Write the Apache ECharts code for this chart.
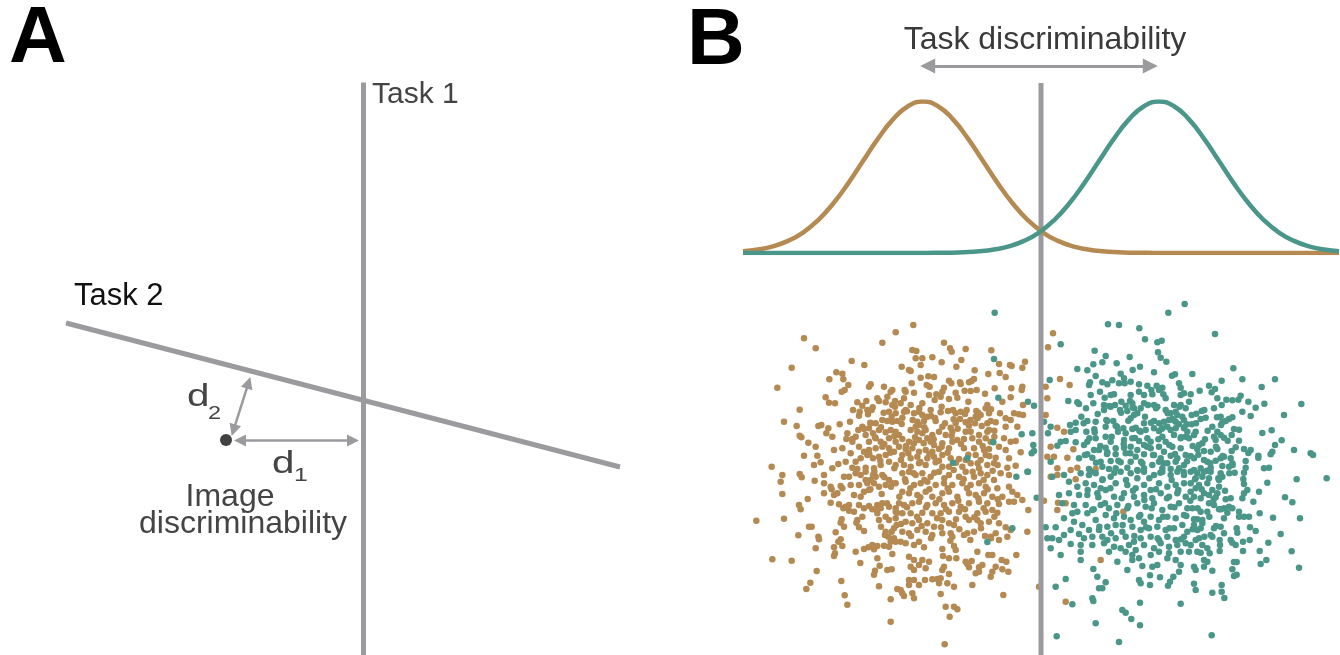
<!DOCTYPE html>
<html>
<head>
<meta charset="utf-8">
<script src="https://cdn.jsdelivr.net/npm/echarts@6/dist/echarts.min.js"></script>
<style>
  html, body { margin: 0; padding: 0; background: #fff; }
  #chart { width: 1340px; height: 655px; }
</style>
</head>
<body>
<div id="chart"></div>
<script>
// ---------- Panel A: two task boundaries and one image (units: decision space) ----------
const task1Boundary = [[0, -25.45], [0, 31.8]];
const task2Boundary = [[-29.75, 7.75], [25.65, -6.65]];
const imagePoint = [[-13.75, -3.95]];
const d1Arrow = [[-12.35, -4.0], [-1.05, -4.0]];
const d2Arrow = [[-13.0, -2.97], [-11.5, 1.77]];

// ---------- Panel B: class densities along the task axis ----------
const orangeDensityX = [-894,-849,-804,-759,-714,-669,-624,-579,-534,-489,-444,-399,-354,-309,-264,-219,-174,-129,-84,-39,6,51,96,141,186,231,276,321,366,411,456,501,546,591,636,681,726,771,816,861,894];
const orangeDensityY = [0.011,0.023,0.044,0.080,0.135,0.216,0.325,0.458,0.607,0.755,0.882,0.969,1,0.969,0.882,0.755,0.607,0.458,0.325,0.216,0.135,0.080,0.044,0.023,0.011,0.005,0.002,0.001,0,0,0,0,0,0,0,0,0,0,0,0,0];
const tealDensityX = [-894,-861,-816,-771,-726,-681,-636,-591,-546,-501,-456,-411,-366,-321,-276,-231,-186,-141,-96,-51,-6,39,84,129,174,219,264,309,354,399,444,489,534,579,624,669,714,759,804,849,894];
const tealDensityY = [0,0,0,0,0,0,0,0,0,0,0,0,0,0.001,0.002,0.005,0.011,0.023,0.044,0.080,0.135,0.216,0.325,0.458,0.607,0.755,0.882,0.969,1,0.969,0.882,0.755,0.607,0.458,0.325,0.216,0.135,0.080,0.044,0.023,0.011];

// Task boundary and discriminability arrow (same horizontal units as the samples)
const taskBoundaryB = [[0, -555], [0, 1161]];
const taskArrowB = [[-340, 1212], [328, 1212]];

// ---------- Panel B: image samples of each class ----------
const orangeSamples = [
[-711,395],[-676,365],[-748,307],[-791,247],[-568,327],[-530,315],[-436,413],[-476,382],[-614,293],[-596,289],[-635,272],[-593,272],[-578,255],[-598,235],[-589,240],[-511,257],[-516,250],[-471,250],[-446,240],[-451,235],[-646,218],[-636,202],[-618,200],[-724,181],[-771,145],[-733,132],[-668,132],[-659,135],[-638,125],[-604,137],[-573,145],[-724,103],[-719,98],[-698,82],[-676,70],[-711,43],[-671,43],[-808,10],[-681,15],[-661,23],[-626,5],[-608,18],[-621,60],[-596,65],[-626,100],[-644,110],[-584,93],[-566,93],[-581,110],
[-551,203],[-536,193],[-524,207],[-544,175],[-521,180],[-508,180],[-564,180],[-546,163],[-519,167],[-491,215],[-486,207],[-466,203],[-461,220],[-446,195],[-438,207],[-456,175],[-436,170],[-431,147],[-446,145],[-476,150],[-461,147],[-496,140],[-511,140],[-536,130],[-548,120],[-531,123],[-516,125],[-504,110],[-486,120],[-466,113],[-451,120],[-436,115],[-436,85],[-456,95],[-481,85],[-496,95],[-516,85],[-526,105],[-556,100],[-566,85],[-546,70],[-531,55],[-516,60],[-496,65],[-476,70],[-456,65],[-441,55],[-466,45],[-486,40],[-504,35],[-521,45],[-541,35],[-556,25],[-571,50],[-586,25],[-566,7],[-551,3],[-526,7],[-501,5],[-481,15],[-456,25],[-436,15],
[-383,435],[-291,382],[-273,365],[-268,355],[-226,363],[-149,359],[-386,360],[-374,357],[-376,335],[-356,335],[-326,338],[-239,330],[-298,323],[-361,315],[-418,310],[-396,300],[-391,297],[-254,310],[-199,299],[-126,318],[-93,315],[-88,312],[-48,325],[-56,307],[-158,288],[-124,291],[-106,279],[-338,281],[-321,279],[-361,277],[-276,268],[-269,260],[-243,263],[-241,258],[-216,263],[-208,267],[-201,273],[-388,260],[-343,255],[-334,250],[-291,247],[-296,235],[-256,232],[-229,238],[-211,237],[-193,240],[-139,245],[-89,245],[-56,250],[-58,240],[-409,240],[-406,235],[-381,232],[-336,225],[-314,227],[-301,220],[-276,213],[-251,217],[-218,205],[-168,229],[-116,205],[-91,218],[-54,195],[-411,215],[-421,200],[-391,195],[-356,200],[-319,210],[-366,175],[-381,170],[-356,165],[-341,160],[-331,180],[-301,173],[-279,177],[-264,180],[-256,170],[-241,175],[-223,180],[-194,177],[-188,172],[-166,185],[-161,195],[-156,170],[-123,170],[-81,170],[-66,167],[-54,165],[-106,155],[-91,150],[-416,157],[-411,175],[-406,180],[-371,145],[-351,147],[-316,147],[-296,130],[-271,127],[-256,140],[-243,153],[-226,143],[-216,133],[-198,140],[-196,160],[-181,165],[-161,140],[-151,147],[-136,143],[-106,130],[-71,130],[-376,130],[-366,135],[-391,120],[-371,115],[-356,110],[-346,120],[-326,105],[-306,115],[-286,105],[-266,115],[-226,115],[-211,115],[-186,105],[-161,115],[-156,120],[-426,105],[-416,93],[-396,85],[-381,80],[-366,90],[-341,95],[-331,85],[-321,75],[-296,80],[-266,85],[-251,90],[-231,93],[-186,85],[-166,95],[-151,85],[-111,95],[-91,85],[-76,87],[-426,70],[-406,63],[-386,65],[-366,55],[-346,60],[-326,55],[-306,63],[-276,65],[-231,65],[-201,65],[-171,60],[-156,63],[-126,70],[-106,60],[-416,45],[-391,35],[-371,40],[-341,35],[-321,40],[-296,45],[-271,35],[-246,33],[-226,30],[-196,45],[-181,30],[-166,45],[-136,37],[-96,35],[-61,53],[-411,15],[-391,10],[-366,20],[-346,15],[-316,23],[-296,10],[-276,10],[-236,10],[-211,20],[-186,5],[-161,15],[-141,20],[-101,7],[-76,13],
[36,410],[21,368],[57,273],[86,255],[14,250],[19,215],[14,165],[49,127],[69,115],[29,70],[97,62],[19,40],[39,40],[79,37],[49,5],[164,3],[109,7],
[-776,-15],[-781,-35],[-724,-12],[-718,-22],[-651,-15],[-679,-32],[-651,-40],[-776,-72],[-700,-87],[-726,-105],[-721,-118],[-854,-152],[-771,-146],[-631,-50],[-628,-58],[-651,-70],[-621,-75],[-611,-70],[-631,-98],[-606,-103],[-596,-55],[-601,-48],[-571,-45],[-576,-20],[-591,-20],[-556,-10],[-541,-15],[-526,-5],[-504,-15],[-546,-45],[-561,-75],[-541,-80],[-531,-65],[-516,-60],[-521,-40],[-501,-40],[-486,-50],[-466,-45],[-446,-40],[-526,-30],[-511,-30],[-496,-20],[-476,-15],[-456,-30],[-436,-40],[-576,-105],[-586,-110],[-593,-115],[-576,-122],[-561,-125],[-546,-105],[-531,-115],[-516,-108],[-506,-118],[-491,-105],[-476,-100],[-481,-115],[-456,-110],[-436,-115],[-491,-130],[-486,-150],[-466,-140],[-456,-150],[-436,-145],[-436,-125],[-598,-148],[-601,-158],[-591,-170],[-551,-150],[-554,-158],[-536,-140],[-546,-172],[-531,-183],[-616,-187],[-601,-208],[-608,-215],[-696,-170],[-688,-170],[-728,-196],[-668,-200],[-666,-208],[-621,-232],[-618,-250],[-621,-258],[-676,-235],[-596,-228],[-556,-245],[-531,-237],[-518,-232],[-506,-225],[-501,-238],[-491,-228],[-471,-227],[-456,-230],[-436,-215],[-441,-205],[-466,-185],[-468,-195],[-458,-200],[-451,-215],[-441,-175],[-433,-165],[-446,-252],[-806,-268],[-748,-272],[-673,-303],[-692,-338],[-704,-357],[-599,-333],[-589,-376],[-581,-404],[-542,-279],[-491,-265],[-484,-287],[-498,-302],[-501,-314],[-461,-300],[-448,-298],[-486,-349],[-431,-357],[-451,-388],[-451,-455],
[-416,-10],[-396,-5],[-376,-15],[-356,-10],[-331,-20],[-306,-5],[-276,-15],[-246,-20],[-226,-5],[-201,-20],[-181,-10],[-161,-15],[-121,-10],[-96,-15],[-141,-30],[-406,-35],[-381,-45],[-361,-40],[-341,-35],[-316,-45],[-291,-40],[-266,-45],[-236,-40],[-211,-45],[-186,-40],[-166,-50],[-131,-55],[-96,-50],[-86,-65],[-71,-75],[-56,-90],[-416,-65],[-396,-70],[-371,-75],[-346,-65],[-326,-80],[-296,-70],[-276,-65],[-251,-80],[-216,-70],[-196,-75],[-171,-70],[-146,-80],[-116,-80],[-426,-100],[-411,-105],[-386,-100],[-366,-95],[-341,-105],[-316,-100],[-291,-105],[-266,-100],[-241,-110],[-216,-100],[-186,-95],[-161,-100],[-126,-102],[-96,-95],[-81,-95],[-38,-120],[-416,-130],[-391,-130],[-356,-128],[-326,-130],[-301,-130],[-276,-125],[-246,-125],[-226,-140],[-191,-130],[-166,-125],[-146,-120],[-131,-128],[-406,-155],[-386,-160],[-366,-150],[-341,-160],[-321,-170],[-296,-150],[-276,-160],[-261,-165],[-216,-150],[-191,-150],[-181,-160],[-156,-155],[-126,-160],[-106,-172],[-91,-180],[-41,-185],[-416,-185],[-396,-190],[-371,-180],[-346,-185],[-326,-195],[-296,-190],[-271,-190],[-266,-200],[-231,-195],[-221,-190],[-201,-185],[-168,-198],[-151,-200],[-136,-190],[-126,-210],[-101,-200],[-421,-215],[-406,-220],[-381,-225],[-366,-215],[-351,-232],[-296,-237],[-261,-228],[-256,-240],[-191,-245],[-158,-255],[-146,-255],[-74,-255],[-396,-260],[-381,-270],[-356,-270],[-336,-275],[-294,-258],[-276,-265],[-254,-265],[-226,-275],[-208,-273],[-118,-270],[-104,-275],[-391,-290],[-366,-285],[-346,-295],[-381,-300],[-296,-300],[-291,-290],[-276,-312],[-221,-282],[-216,-292],[-186,-292],[-176,-285],[-136,-290],[-116,-298],[-98,-305],[-146,-305],[-186,-305],[-196,-310],[-151,-320],[-396,-330],[-381,-330],[-348,-330],[-326,-328],[-311,-327],[-301,-325],[-306,-340],[-281,-340],[-261,-350],[-396,-345],[-366,-345],[-421,-360],[-416,-370],[-386,-370],[-411,-378],[-381,-385],[-301,-372],[-206,-345],[-113,-375],[-286,-410],[-261,-410],[-251,-418],[-274,-440],[-289,-523],[-6,-350],
[29,-20],[49,-15],[51,-98],[74,-100],[49,-120],[104,-28],[9,-92],[247,-125],[179,-270],[74,-395],[89,0],
[-505,188],[-472,172],[-438,190],[-402,176],[-365,186],[-330,162],[-298,190],[-262,152],[-228,168],[-190,156],[-150,182],
[-512,142],[-480,128],[-448,160],[-418,138],[-385,150],[-350,128],[-318,156],[-288,140],[-250,124],[-212,150],[-178,132],[-140,118],
[-498,98],[-470,78],[-440,102],[-405,72],[-378,98],[-352,80],[-322,92],[-298,70],[-268,102],[-240,78],[-206,95],[-175,72],[-140,100],
[-515,48],[-482,28],[-452,52],[-420,30],[-398,50],[-362,24],[-335,48],[-306,28],[-280,52],[-255,22],[-218,46],[-190,20],[-155,42],[-130,15],
[-500,-5],[-470,-22],[-440,5],[-408,-28],[-382,-10],[-350,-30],[-320,-8],[-290,-25],[-262,0],[-232,-28],[-205,-5],[-172,-30],[-145,-2],
[-512,-58],[-478,-72],[-450,-50],[-425,-80],[-392,-55],[-362,-82],[-335,-58],[-305,-88],[-280,-55],[-248,-92],[-222,-55],[-188,-85],[-160,-58],[-130,-88],
[-495,-118],[-462,-100],[-432,-128],[-402,-112],[-372,-140],[-345,-112],[-312,-145],[-285,-118],[-255,-148],[-228,-118],[-200,-142],[-172,-115],[-140,-140],
[-480,-170],[-448,-185],[-420,-162],[-390,-198],[-358,-168],[-330,-205],[-300,-172],[-272,-212],[-245,-178],[-212,-210],[-180,-175],[-150,-205]
];

const tealSamples = [
[-139,472],[-141,333],[-128,217],[-39,205],[-21,193],[-58,107],[-26,110],[-23,75],[-143,83],[-21,57],[-28,50],[-221,35],[-264,22],[-41,-5],
[431,498],[382,472],[201,437],[234,435],[295,425],[312,392],[349,383],[362,388],[59,377],[161,358],[194,342],[266,339],[351,353],[359,337],[376,325],[184,323],[157,317],[227,320],[109,303],[139,299],[297,310],[275,300],[339,293],[393,283],[402,287],[239,289],[249,275],[164,282],[214,269],[184,263],[199,257],[147,263],[144,255],[26,270],[234,260],[269,265],[251,260],[294,257],[319,253],[331,240],[347,253],[354,240],[364,247],[414,260],[419,247],[177,235],[209,225],[219,227],[191,217],[149,225],[269,225],[294,235],[309,225],[334,227],[367,227],[374,215],[419,225],[429,230],[82,207],[109,203],[114,198],[157,200],[189,195],[209,190],[222,195],[241,205],[254,193],[267,207],[274,200],[309,200],[321,195],[339,195],[349,190],[399,195],[419,195],[434,185],[189,180],[237,180],[259,177],[279,185],[299,185],[289,170],[279,165],[374,180],[389,170],[404,175],[409,165],[424,160],[121,160],[9,145],[29,130],[87,135],[104,142],[139,147],[164,145],[199,147],[217,147],[269,155],[309,140],[339,147],[354,140],[369,145],[384,150],[394,153],[404,145],[414,137],[429,150],[437,137],[194,130],[224,133],[247,125],[274,123],[284,127],[89,115],[104,120],[136,115],[161,113],[231,115],[254,110],[299,115],[314,120],[339,125],[354,117],[364,125],[379,130],[389,120],[404,125],[429,125],[439,115],[21,110],[59,85],[74,87],[104,83],[139,85],[164,95],[194,100],[209,85],[249,90],[274,95],[294,87],[319,95],[329,85],[364,100],[374,85],[399,105],[419,95],[434,100],[49,73],[129,75],[159,60],[174,60],[194,67],[224,65],[249,67],[269,70],[289,60],[309,75],[329,65],[354,70],[369,55],[394,70],[419,65],[139,47],[199,53],[224,47],[254,50],[284,40],[309,47],[339,45],[359,35],[389,43],[409,35],[434,45],[29,25],[114,35],[154,37],[179,25],[209,27],[239,23],[269,25],[304,20],[334,15],[354,25],[379,20],[404,25],[429,15],[144,3],[184,10],[204,3],[224,5],[259,7],[289,0],[309,5],[364,5],[389,3],[414,5],
[522,408],[577,305],[454,288],[604,272],[702,272],[542,268],[662,249],[504,253],[522,243],[512,233],[476,238],[449,227],[599,223],[529,215],[556,211],[574,209],[592,211],[622,205],[670,199],[781,198],[444,205],[542,195],[644,187],[519,185],[604,175],[482,177],[466,169],[729,165],[629,162],[539,160],[574,158],[564,153],[554,147],[544,143],[494,157],[479,153],[452,137],[514,130],[579,123],[594,121],[692,119],[664,111],[529,115],[539,105],[464,115],[459,105],[444,95],[484,80],[474,75],[519,100],[524,90],[549,97],[572,105],[594,88],[722,89],[702,75],[469,62],[489,57],[509,55],[529,63],[584,68],[572,57],[609,63],[629,60],[622,51],[652,43],[652,37],[694,55],[689,47],[759,60],[809,50],[816,45],[449,42],[459,35],[489,30],[499,25],[524,28],[539,35],[549,40],[569,35],[574,20],[564,10],[544,12],[614,27],[614,7],[509,7],[479,5],[459,0],[669,5],[684,7],
[-74,-20],[-39,-5],[-13,-83],[-86,-175],[-161,-216],
[34,-20],[69,-15],[119,-10],[144,-15],[164,-10],[184,-30],[209,-20],[239,-5],[269,-10],[289,-25],[309,-5],[339,-15],[364,-5],[389,-15],[409,-5],[429,-15],[84,-35],[109,-50],[134,-40],[159,-45],[179,-55],[224,-40],[259,-45],[284,-55],[309,-45],[329,-60],[354,-40],[379,-50],[404,-45],[429,-40],[54,-75],[84,-70],[114,-75],[139,-75],[169,-70],[194,-60],[219,-80],[249,-70],[279,-80],[309,-75],[334,-85],[359,-70],[384,-80],[409,-70],[434,-80],[64,-100],[99,-105],[109,-125],[134,-105],[154,-120],[179,-105],[204,-115],[229,-105],[259,-115],[289,-100],[314,-110],[339,-100],[364,-120],[389,-110],[414,-100],[439,-115],[94,-130],[139,-130],[164,-150],[194,-135],[219,-145],[249,-140],[269,-150],[294,-140],[309,-155],[329,-140],[354,-150],[379,-140],[404,-145],[429,-135],[69,-145],[14,-172],[44,-172],[99,-155],[124,-165],[144,-180],[174,-180],[199,-170],[224,-165],[244,-185],[274,-170],[299,-180],[324,-175],[349,-170],[374,-180],[399,-175],[424,-165],[439,-185],[89,-180],[114,-192],[69,-195],[54,-210],[34,-205],[19,-205],[129,-205],[154,-200],[184,-200],[199,-210],[224,-205],[254,-200],[279,-215],[299,-205],[329,-200],[354,-210],[379,-200],[404,-210],[429,-200],[89,-222],[119,-225],[154,-225],[189,-220],[219,-230],[239,-235],[264,-225],[284,-240],[309,-225],[339,-235],[359,-220],[384,-230],[409,-225],[434,-220],[29,-235],[59,-255],[119,-245],[204,-245],[254,-245],[274,-255],[294,-265],[329,-255],[354,-245],[384,-250],[419,-245],[119,-270],[229,-275],[274,-270],[304,-288],[334,-290],[349,-285],[379,-265],[404,-270],[419,-285],[157,-297],[259,-300],[327,-316],[357,-322],[397,-320],[414,-305],[169,-320],[194,-337],[174,-355],[184,-355],[294,-330],[299,-340],[327,-345],[387,-335],[381,-347],[44,-350],[74,-327],[154,-385],[157,-393],[94,-403],[297,-398],[419,-401],[244,-420],[254,-428],[271,-447],[164,-460],[297,-466],[47,-499],[234,-516],
[449,-5],[469,-10],[489,-5],[509,-5],[539,-10],[581,-8],[609,-8],[464,-25],[484,-20],[504,-25],[534,-30],[544,-20],[449,-40],[474,-45],[499,-40],[534,-50],[514,-60],[464,-55],[449,-65],[489,-70],[459,-80],[479,-85],[504,-75],[529,-70],[524,-82],[554,-88],[569,-85],[604,-85],[619,-60],[609,-70],[609,-42],[607,-27],[679,-38],[654,-65],[637,-95],[732,-82],[754,-97],[767,-28],[857,-25],[504,-100],[519,-105],[454,-115],[479,-125],[499,-125],[534,-118],[549,-115],[564,-110],[574,-115],[559,-128],[549,-145],[594,-125],[594,-140],[609,-140],[624,-140],[656,-130],[696,-143],[777,-145],[459,-148],[469,-148],[484,-150],[484,-160],[459,-165],[469,-180],[479,-175],[519,-175],[539,-170],[549,-190],[587,-175],[589,-188],[627,-172],[644,-183],[719,-192],[449,-225],[464,-210],[474,-205],[484,-225],[499,-235],[509,-195],[514,-200],[536,-210],[537,-225],[569,-210],[574,-218],[584,-225],[606,-215],[626,-210],[682,-218],[444,-245],[469,-245],[479,-248],[506,-250],[536,-243],[606,-243],[656,-243],[752,-244],[489,-270],[499,-275],[579,-276],[587,-276],[676,-270],[659,-282],[459,-290],[464,-300],[489,-290],[514,-302],[574,-298],[774,-293],[579,-318],[587,-314],[459,-341],[464,-360],[542,-345],[514,-368],[542,-365],[550,-384],[512,-496],
[135,185],[170,168],[205,192],[240,172],[275,188],[312,160],[345,185],[380,170],[415,190],[452,165],[490,180],[528,158],
[128,140],[160,122],[196,150],[228,130],[262,148],[295,118],[330,142],[362,124],[398,150],[430,128],[465,140],[500,118],[540,135],
[145,95],[178,72],[212,100],[248,78],[282,96],[318,70],[352,92],[385,75],[420,98],[455,72],[492,92],[525,70],[560,88],
[132,45],[165,22],[198,48],[232,28],[268,50],[300,25],[336,45],[368,20],[402,48],[438,26],[472,46],[508,20],[545,42],[575,15],
[150,-5],[185,-28],[220,-8],[255,-30],[290,-2],[325,-25],[358,-8],[392,-30],[428,-5],[462,-28],[498,-2],[532,-25],[565,-10],
[140,-60],[172,-82],[208,-55],[242,-85],[276,-62],[310,-90],[345,-58],[378,-85],[412,-60],[448,-92],[482,-58],[518,-88],[552,-62],
[158,-118],[192,-100],[226,-130],[262,-108],[298,-135],[332,-115],[366,-140],[400,-112],[436,-138],[470,-115],[505,-140],[540,-118],
[175,-170],[210,-190],[245,-165],[280,-198],[315,-172],[350,-205],[385,-175],[420,-208],[455,-178],[490,-200],[525,-168]
];

const GRAY = '#9b9b9f';
const ORANGE = '#b58a52';
const TEAL = '#4a9789';
const FONT = '"Liberation Sans", Arial, Helvetica, sans-serif';

const hiddenAxis = (extra) => Object.assign({
  type: 'value', show: false, splitLine: { show: false }, axisLine: { show: false },
  axisTick: { show: false }, axisLabel: { show: false }
}, extra);

const chart = echarts.init(document.getElementById('chart'), null, { renderer: 'canvas' });

const pairs = (xs, ys) => xs.map((x, i) => [x, ys[i]]);

function label(text, x, y, size, fill, align, weight, scaleX) {
  return {
    type: 'text', x: x, y: y, silent: true, scaleX: scaleX || 1,
    style: {
      text: text, fill: fill, align: align || 'left', verticalAlign: 'middle',
      font: (weight || 'normal') + ' ' + size + 'px ' + FONT
    }
  };
}

chart.setOption({
  animation: false,
  backgroundColor: '#ffffff',
  grid: [
    { left: 0, top: 0, width: 680, height: 655 },          // panel A
    { left: 743, top: 101.5, width: 596, height: 151.5 },  // panel B densities
    { left: 743, top: 0, width: 596, height: 655 }         // panel B samples
  ],
  xAxis: [
    hiddenAxis({ gridIndex: 0, min: -36.35, max: 31.65 }),
    hiddenAxis({ gridIndex: 1, min: -894, max: 894 }),
    hiddenAxis({ gridIndex: 2, min: -894, max: 894 })
  ],
  yAxis: [
    hiddenAxis({ gridIndex: 0, min: -25.45, max: 40.05 }),
    hiddenAxis({ gridIndex: 1, min: 0, max: 1 }),
    hiddenAxis({ gridIndex: 2, min: -555, max: 1410 })
  ],
  series: [
    // ----- panel A -----
    { type: 'line', xAxisIndex: 0, yAxisIndex: 0, data: task1Boundary, symbol: 'none',
      lineStyle: { color: GRAY, width: 5, cap: 'butt' }, silent: true },
    { type: 'line', xAxisIndex: 0, yAxisIndex: 0, data: task2Boundary, symbol: 'none',
      lineStyle: { color: GRAY, width: 5, cap: 'butt' }, silent: true },
    { type: 'lines', coordinateSystem: 'cartesian2d', xAxisIndex: 0, yAxisIndex: 0,
      symbol: ['triangle', 'triangle'], symbolSize: 12,
      lineStyle: { color: GRAY, width: 2.5, opacity: 1 },
      data: [{ coords: d1Arrow }, { coords: d2Arrow }], silent: true },
    { type: 'scatter', xAxisIndex: 0, yAxisIndex: 0, data: imagePoint, symbol: 'circle',
      symbolSize: 12, itemStyle: { color: '#111111' }, silent: true },

    // ----- panel B: samples -----
    { type: 'scatter', xAxisIndex: 2, yAxisIndex: 2, data: orangeSamples, symbol: 'circle',
      symbolSize: 6.5, itemStyle: { color: ORANGE, opacity: 1 }, silent: true, large: false },
    { type: 'scatter', xAxisIndex: 2, yAxisIndex: 2, data: tealSamples, symbol: 'circle',
      symbolSize: 6.5, itemStyle: { color: TEAL, opacity: 1 }, silent: true, large: false },

    // ----- panel B: boundary and arrow -----
    { type: 'line', xAxisIndex: 2, yAxisIndex: 2, data: taskBoundaryB, symbol: 'none',
      lineStyle: { color: GRAY, width: 5, cap: 'butt' }, silent: true },
    { type: 'lines', coordinateSystem: 'cartesian2d', xAxisIndex: 2, yAxisIndex: 2,
      symbol: ['triangle', 'triangle'], symbolSize: 15,
      lineStyle: { color: GRAY, width: 3, opacity: 1 },
      data: [{ coords: taskArrowB }], silent: true },

    // ----- panel B: densities -----
    { type: 'line', xAxisIndex: 1, yAxisIndex: 1, data: pairs(orangeDensityX, orangeDensityY),
      symbol: 'none', smooth: 0.5,
      lineStyle: { color: ORANGE, width: 4.5 }, silent: true },
    { type: 'line', xAxisIndex: 1, yAxisIndex: 1, data: pairs(tealDensityX, tealDensityY),
      symbol: 'none', smooth: 0.5,
      lineStyle: { color: TEAL, width: 4.5 }, silent: true }
  ],
  graphic: [
    label('A', 9, 40, 80, '#000', 'left', 'bold'),
    label('B', 687, 42, 80, '#000', 'left', 'bold'),
    label('Task 1', 372, 95, 30, '#444', 'left'),
    label('Task 2', 74, 296, 31, '#111', 'left'),
    label('Task discriminability', 1045, 40, 32, '#3a3a3a', 'center'),
    label('d', 187, 397.5, 31, '#444', 'left', 'normal', 1.3),
    label('2', 208, 414, 18, '#444', 'left', 'normal', 1.3),
    label('d', 272, 464, 31, '#444', 'left', 'normal', 1.3),
    label('1', 294, 476, 19, '#444', 'left', 'normal', 1.3),
    label('Image', 230, 497, 32, '#444', 'center'),
    label('discriminability', 243, 524, 32, '#444', 'center')
  ]
});
</script>
</body>
</html>
